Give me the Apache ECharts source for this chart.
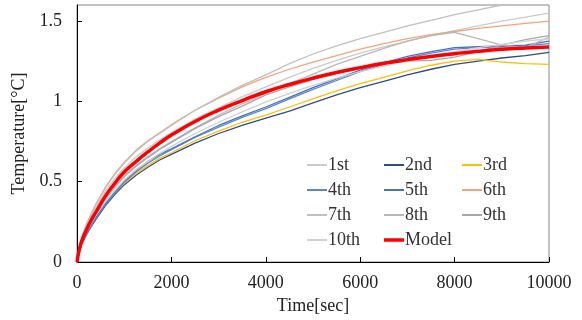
<!DOCTYPE html>
<html>
<head>
<meta charset="utf-8">
<script src="https://cdn.jsdelivr.net/npm/echarts@6/dist/echarts.min.js"></script>
<style>html,body{margin:0;padding:0;background:#fff}#c{width:582px;height:320px}</style>
</head>
<body>
<div id="c"></div>
<script>
var times = [0,50,100,200,300,400,600,800,1000,1250,1500,1750,2000,2500,3000,3500,4000,4500,5000,5500,6000,6500,7000,7500,8000,8500,9000,9500,10000];

var s1st  = [0,0.085,0.14,0.22,0.285,0.34,0.44,0.52,0.585,0.655,0.71,0.76,0.805,0.89,0.96,1.03,1.09,1.15,1.205,1.255,1.30,1.34,1.375,1.41,1.44,1.47,1.50,1.525,1.55];
var s2nd  = [0,0.065,0.11,0.17,0.22,0.265,0.35,0.42,0.48,0.54,0.59,0.635,0.67,0.74,0.80,0.85,0.895,0.94,0.99,1.04,1.085,1.125,1.165,1.20,1.23,1.25,1.27,1.285,1.305];
var s3rd  = [0,0.07,0.115,0.175,0.23,0.275,0.36,0.43,0.49,0.55,0.60,0.645,0.68,0.755,0.815,0.87,0.915,0.965,1.015,1.065,1.11,1.15,1.19,1.225,1.25,1.262,1.245,1.235,1.23];
var s4th  = [0,0.065,0.11,0.17,0.225,0.27,0.355,0.43,0.495,0.56,0.615,0.66,0.70,0.775,0.84,0.90,0.955,1.015,1.075,1.13,1.185,1.23,1.27,1.30,1.325,1.335,1.34,1.345,1.36];
var s5th  = [0,0.07,0.115,0.18,0.235,0.28,0.365,0.44,0.505,0.57,0.625,0.67,0.705,0.78,0.85,0.91,0.965,1.025,1.085,1.14,1.195,1.24,1.28,1.31,1.335,1.34,1.345,1.35,1.375];
var s6th  = [0,0.09,0.15,0.235,0.30,0.36,0.465,0.55,0.62,0.695,0.755,0.805,0.855,0.945,1.02,1.09,1.15,1.20,1.245,1.285,1.325,1.36,1.39,1.415,1.435,1.455,1.47,1.485,1.50];
var s7th  = [0,0.09,0.15,0.23,0.30,0.36,0.46,0.545,0.615,0.69,0.75,0.80,0.85,0.945,1.025,1.10,1.165,1.235,1.295,1.345,1.39,1.43,1.47,1.505,1.54,1.57,1.60,1.62,1.64];
var s8th  = [0,0.08,0.13,0.20,0.26,0.31,0.40,0.475,0.54,0.60,0.655,0.705,0.75,0.835,0.915,0.985,1.05,1.11,1.17,1.23,1.28,1.33,1.375,1.41,1.43,1.39,1.35,1.335,1.40];
var s9th  = [0,0.075,0.125,0.19,0.25,0.30,0.39,0.465,0.53,0.595,0.65,0.70,0.745,0.83,0.905,0.97,1.04,1.09,1.135,1.175,1.205,1.235,1.25,1.255,1.275,1.31,1.35,1.385,1.41];
var s10th = [0,0.07,0.12,0.185,0.24,0.29,0.375,0.445,0.51,0.575,0.625,0.675,0.72,0.80,0.87,0.935,0.995,1.05,1.10,1.145,1.185,1.22,1.255,1.285,1.31,1.335,1.355,1.375,1.39];
var model = [0,0.08,0.13,0.20,0.26,0.31,0.41,0.49,0.56,0.625,0.685,0.74,0.79,0.875,0.945,1.005,1.06,1.105,1.145,1.18,1.21,1.237,1.26,1.28,1.297,1.312,1.324,1.332,1.338];

var yTicks = [0, 0.5, 1, 1.5];
var xTicks = [0, 2000, 4000, 6000, 8000, 10000];

var names  = ['1st','2nd','3rd','4th','5th','6th','7th','8th','9th','10th','Model'];
var values = [s1st,s2nd,s3rd,s4th,s5th,s6th,s7th,s8th,s9th,s10th,model];
var colors = ['#cbcbcb','#2f4b8a','#ffc000','#5b87d0','#4472c4','#f4a47a','#c0c0c0','#b8b8b8','#a8a8a8','#d0d0d0','#ff0000'];

function pairs(v){ return times.map(function(t,i){ return [t, v[i]]; }); }

var series = names.map(function(n, k){
  var isModel = n === 'Model';
  return {
    name: n, type: 'line', data: pairs(values[k]),
    symbol: 'none', smooth: isModel, z: isModel ? 10 : 2,
    lineStyle: { width: isModel ? 3.5 : 1.3, color: colors[k] },
    itemStyle: { color: colors[k] },
    clip: true
  };
});

var font = 'Liberation Serif, Times New Roman, serif';
function leg(list, left, top, h){
  return {
    data: list, orient: 'vertical', left: left, top: top,
    icon: 'rect', itemWidth: 20, itemHeight: h, itemGap: 7,
    textStyle: { fontFamily: font, fontSize: 18, color: '#333', padding: [0,0,0,-4] }
  };
}

var chart = echarts.init(document.getElementById('c'));
chart.setOption({
  animation: false,
  grid: { left: 77, right: 33, top: 5, bottom: 58, show: true, borderColor: '#888', borderWidth: 1 },
  legend: [
    leg(['1st','4th','7th','10th'], 302, 151, 2),
    leg(['2nd','5th','8th'], 379, 151, 2),
    leg(['Model'], 379, 226, 3.5),
    leg(['3rd','6th','9th'], 457, 151, 2)
  ],
  xAxis: {
    type: 'value', min: 0, max: 10000, interval: 2000,
    name: 'Time[sec]', nameLocation: 'middle', nameGap: 35,
    nameTextStyle: { fontFamily: font, fontSize: 18, color: '#222' },
    axisLine: { lineStyle: { color: '#000', width: 1 } },
    axisTick: { inside: true, length: 5, lineStyle: { color: '#000' } },
    axisLabel: { fontFamily: font, fontSize: 18, color: '#222', margin: 12,
      formatter: function(v){ return xTicks.indexOf(v) >= 0 ? String(v) : ''; } },
    splitLine: { show: false }
  },
  yAxis: {
    type: 'value', min: 0, max: 1.6, interval: 0.5,
    name: 'Temperature[°C]', nameLocation: 'middle', nameGap: 39,
    nameTextStyle: { fontFamily: font, fontSize: 18, color: '#222' },
    axisLine: { show: true, lineStyle: { color: '#000', width: 1 } },
    axisTick: { show: true, inside: true, length: 5, lineStyle: { color: '#000' } },
    axisLabel: { fontFamily: font, fontSize: 18, color: '#222', margin: 15, showMaxLabel: false,
      formatter: function(v){ return yTicks.indexOf(v) >= 0 ? String(v) : ''; } },
    splitLine: { show: false }
  },
  series: series
});
</script>
</body>
</html>
